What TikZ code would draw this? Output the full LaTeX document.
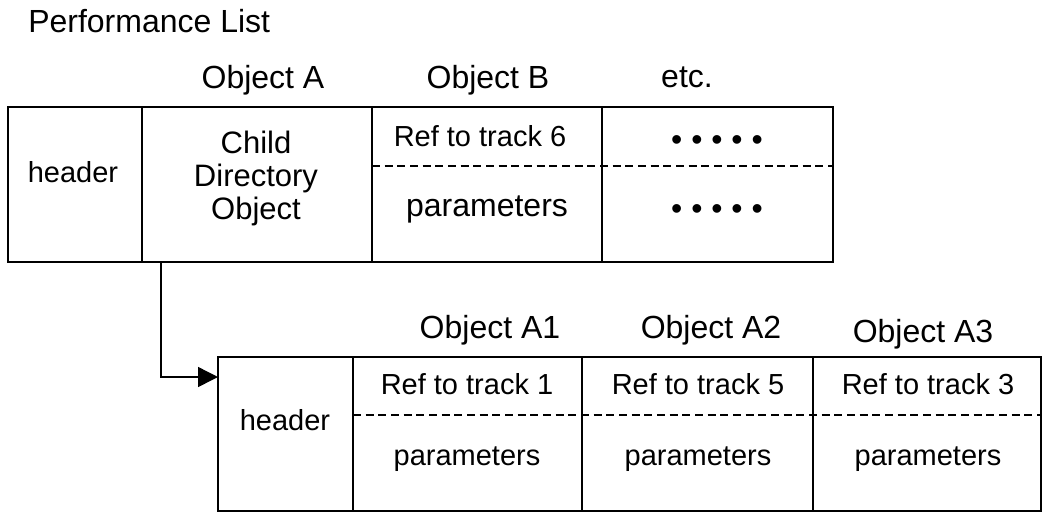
\documentclass[tikz,border=0pt]{standalone}
\usepackage{fontspec}
\setmainfont{Liberation Sans}
\usetikzlibrary{positioning,arrows.meta}

\tikzset{
  cell/.style={draw, line width=1.1pt, inner sep=0pt, outer sep=0pt, minimum height=116.25pt},
  divider/.style={line width=1pt, dash pattern=on 6pt off 3.5pt},
  link/.style={line width=1.1pt, -{Triangle[length=15pt, width=15pt]}},
  lbl/.style={anchor=base, inner sep=0pt, font=\fontsize{21.75}{26}\selectfont},
  biglbl/.style={anchor=base, inner sep=0pt, font=\fontsize{24}{28}\selectfont},
}

\begin{document}
\begin{tikzpicture}[x=0.75pt, y=-0.75pt]
\useasboundingbox (0,0) rectangle (1042,512);

% top list
\node[cell, minimum width=100.5pt] (thdr) at (75,184.5) {};
\node[cell, minimum width=172.5pt, right=0pt of thdr] (tchild) {};
\node[cell, minimum width=172.5pt, right=0pt of tchild] (tobjb) {};
\node[cell, minimum width=173.25pt, right=0pt of tobjb] (tetc) {};
\draw[divider] ([yshift=-44.25pt]tobjb.north west) -- ([yshift=-44.25pt]tetc.north east);

\node[biglbl, anchor=base west] (title) at (28,32) {Performance List};
\node[biglbl] (nameA) at (263,88) {Object A};
\node[biglbl] (nameB) at (488,88) {Object B};
\node[biglbl] (nameetc) at (687,87) {etc.};

\node[lbl] (thdrtxt) at (73,182) {header};
\node[anchor=base, inner sep=0pt, align=center, font=\fontsize{23.25}{24.4}\selectfont] (childtxt) at (256,219) {Child\\Directory\\Object};
\node[lbl] (reftxtB) at (480,146) {Ref to track 6};
\node[biglbl] (partxtB) at (487,216) {parameters};
\node[biglbl] (dotsup) at (717,150) {• • • • •};
\node[biglbl] (dotsdn) at (717,219) {• • • • •};

% child list
\node[cell, minimum width=101.25pt, minimum height=115.5pt] (bhdr) at (285.5,434) {};
\node[cell, minimum width=171.75pt, minimum height=115.5pt, right=0pt of bhdr] (ba1) {};
\node[cell, minimum width=173.25pt, minimum height=115.5pt, right=0pt of ba1] (ba2) {};
\node[cell, minimum width=171pt, minimum height=115.5pt, right=0pt of ba2] (ba3) {};
\draw[divider] ([yshift=-43.5pt]ba1.north west) -- ([yshift=-43.5pt]ba3.north east);

\node[biglbl] (nameA1) at (490,338) {Object A1};
\node[biglbl] (nameA2) at (711,338) {Object A2};
\node[biglbl] (nameA3) at (923,342) {Object A3};

\node[lbl] (bhdrtxt) at (285,430) {header};
\node[lbl] (reftxt1) at (467,394) {Ref to track 1};
\node[lbl] (reftxt5) at (698,394) {Ref to track 5};
\node[lbl] (reftxt3) at (928,394) {Ref to track 3};
\node[lbl] (partxt1) at (467,465) {parameters};
\node[lbl] (partxt2) at (698,465) {parameters};
\node[lbl] (partxt3) at (928,465) {parameters};

% pointer to child list
\draw[link] ([xshift=14.25pt]tchild.south west) |- ([yshift=-15pt]bhdr.north west);
\end{tikzpicture}
\end{document}
